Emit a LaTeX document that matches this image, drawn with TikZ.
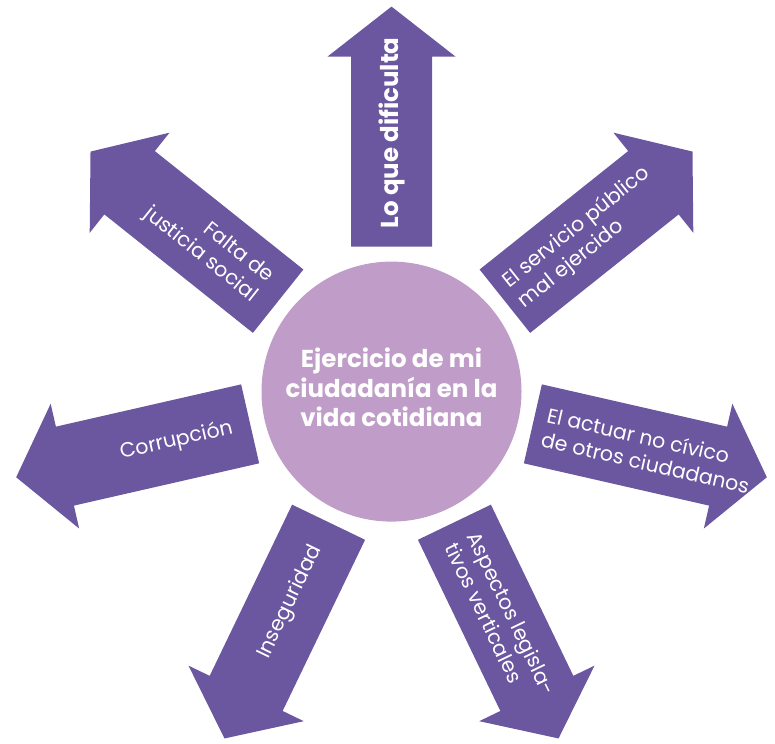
\documentclass[tikz,border=0pt]{standalone}
\usepackage{fontspec}
\setmainfont{Poppins}
\usetikzlibrary{calc}
\definecolor{arrowc}{RGB}{107,86,160}
\definecolor{circc}{RGB}{192,156,200}
\newcommand\purplearrow[2]{%
  \fill[arrowc, shift={(C)}, rotate=#2] (145,-40.5) -- (335,-40.5) -- (335,-64) -- (385,0) -- (335,64) -- (335,40.5) -- (145,40.5) -- cycle;
  \coordinate (#1) at ($(C)+(#2:145)$);}
\begin{document}
\begin{tikzpicture}[x=1pt,y=1pt,
  lbl/.style={text=white, font=\fontsize{20.5}{25}\selectfont, inner sep=0pt},
  boldlbl/.style={text=white, font=\bfseries\fontsize{24.5}{29.5}\selectfont, inner sep=0pt}]
\useasboundingbox (0,0) rectangle (775,743);
\coordinate (C) at (391.5,351.4);
\purplearrow{b0}{90}
\purplearrow{b1}{38.571}
\purplearrow{b2}{-12.857}
\purplearrow{b3}{-64.286}
\purplearrow{b4}{-115.714}
\purplearrow{b5}{-167.143}
\purplearrow{b6}{141.429}
\node[circle, fill=circc, minimum size=260pt, inner sep=0pt] (centre) at (C) {};
\node[boldlbl, align=center] (ct) at ($(C)+(0,4)$) {Ejercicio de mi\\ciudadanía en la\\vida cotidiana};
\node[boldlbl, rotate=90, anchor=west] (t0) at ($(C)+(90:163)$) {Lo que dificulta};
\node[lbl, rotate=38.571, anchor=west, align=left] (t1) at ($(C)+(38.571:156)$) {El servicio público\\mal ejercido};
\node[lbl, rotate=-12.857, anchor=west, align=left] (t2) at ($(C)+(-12.857:157)$) {El actuar no cívico\\de otros ciudadanos};
\node[lbl, rotate=-64.286, anchor=west, align=left] (t3) at ($(C)+(-64.286:163)$) {Aspectos legisla-\\tivos verticales};
\node[lbl, rotate=64.286, anchor=east] (t4) at ($(C)+(-115.714:172)$) {Inseguridad};
\node[lbl, rotate=12.857, anchor=east] (t5) at ($(C)+(-167.143:163)$) {Corrupción};
\node[lbl, rotate=-38.571, anchor=east, align=right] (t6) at ($(C)+(141.429:165)$) {Falta de\\justicia social};
\end{tikzpicture}
\end{document}
